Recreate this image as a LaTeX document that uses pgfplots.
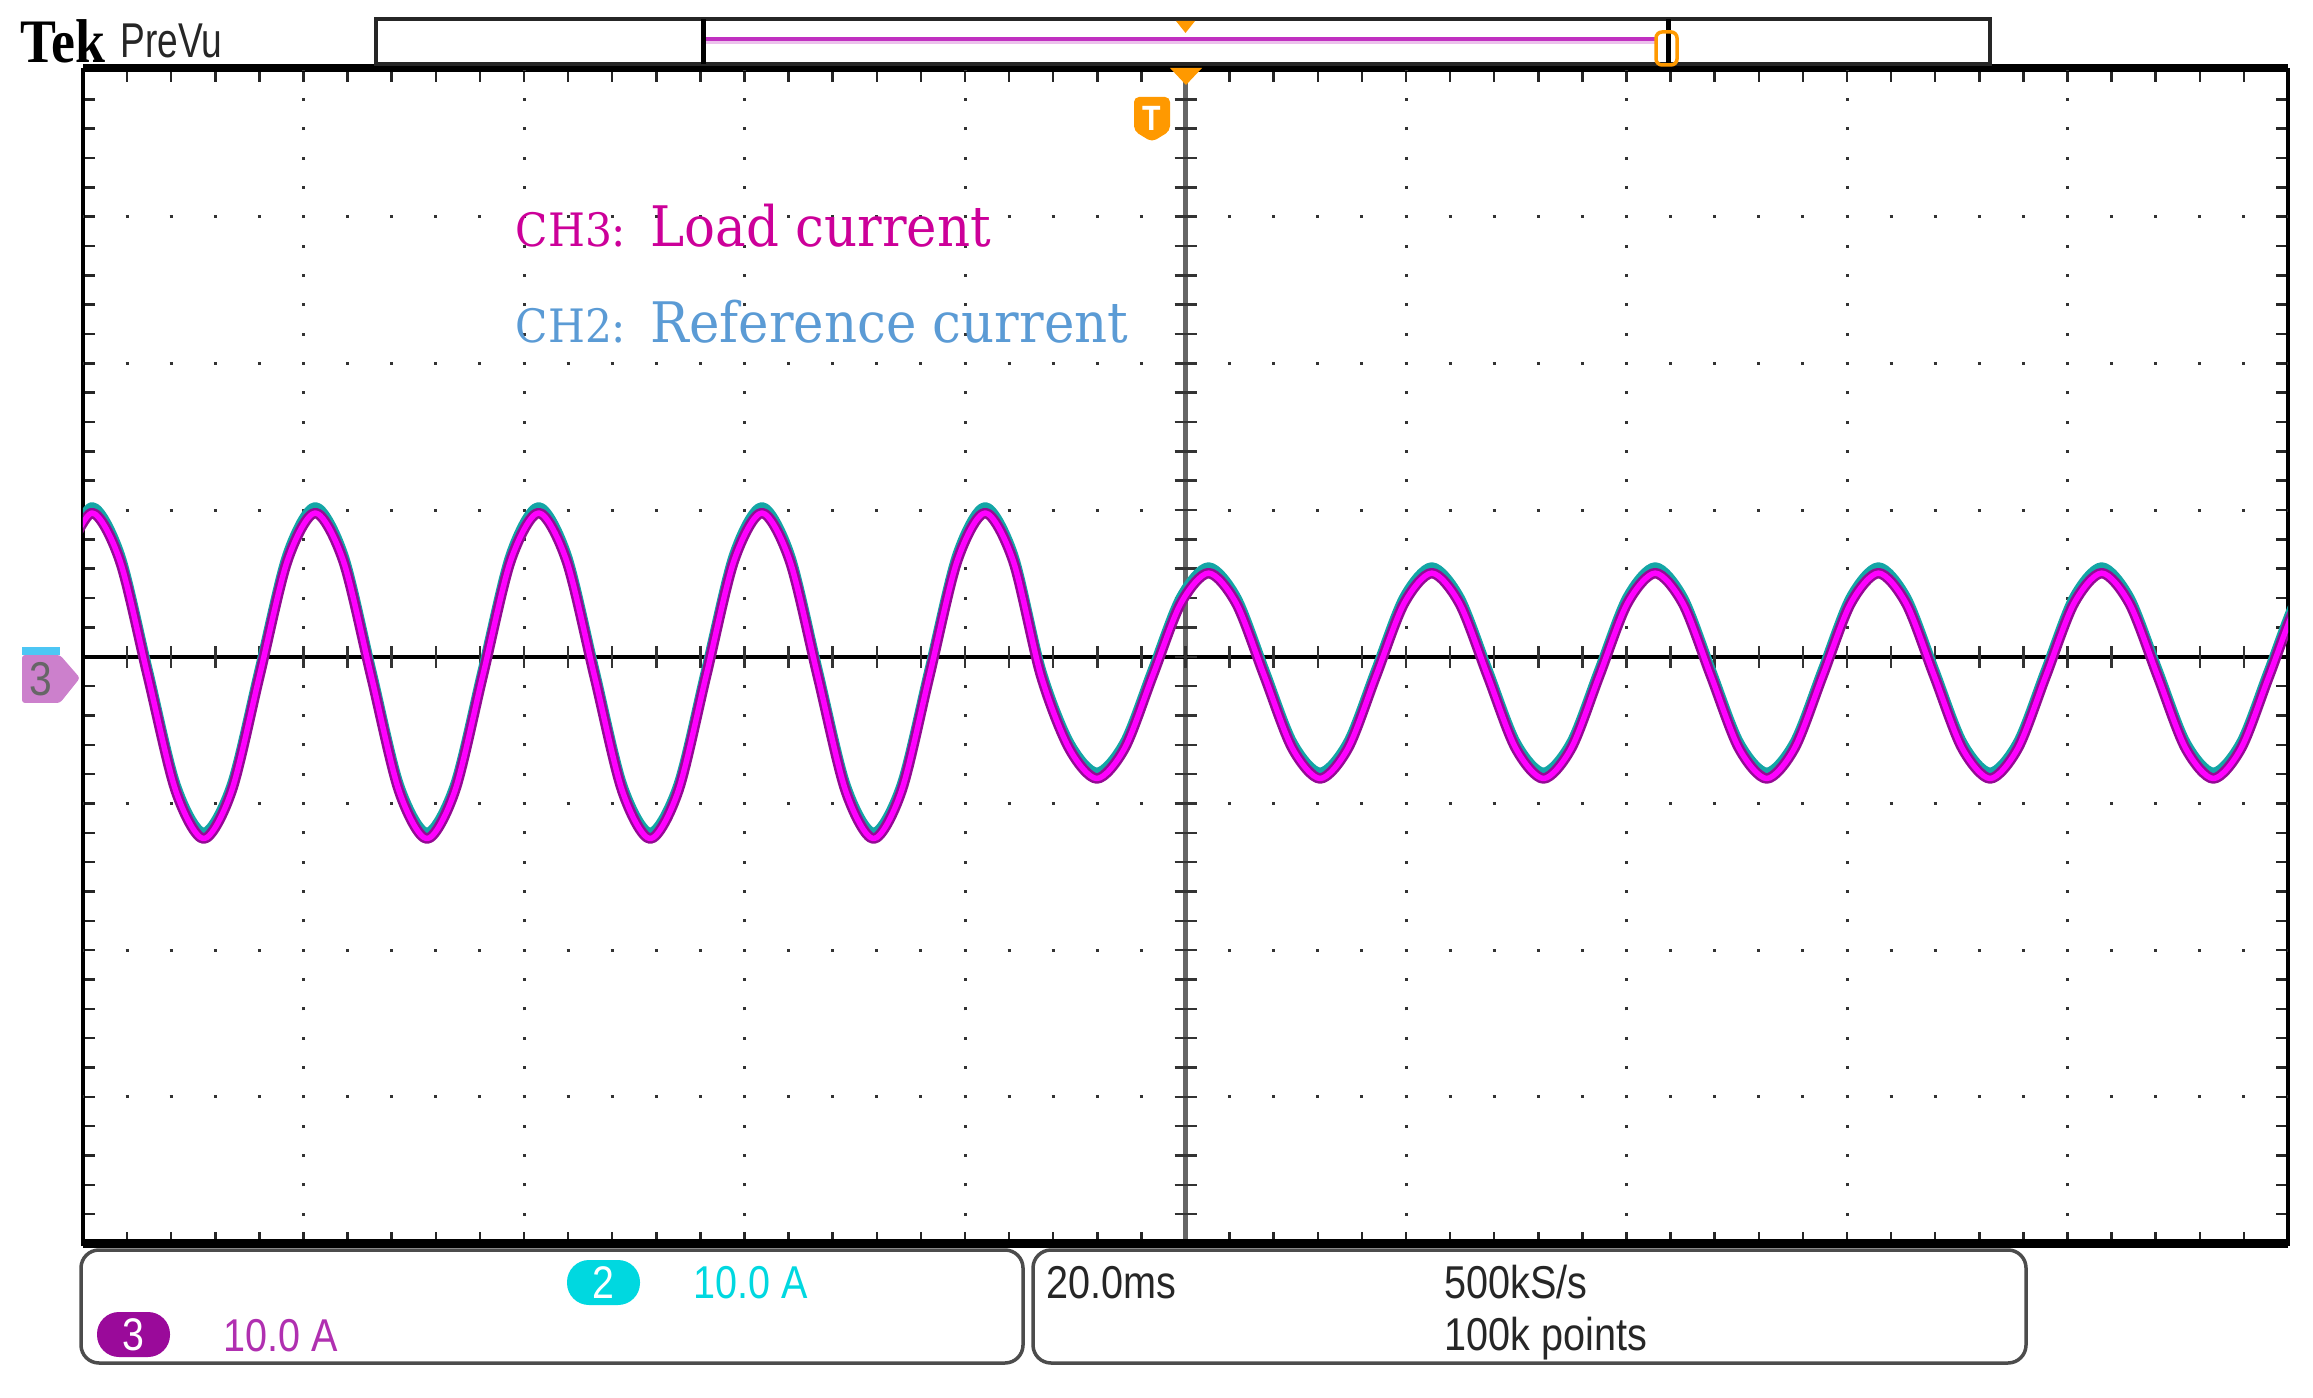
\documentclass[border=0pt]{standalone}
\usepackage{pgfplots}
\pgfplotsset{compat=1.18}
\usepackage{pgfplotstable}
\usepackage{fontspec}
\setmainfont{Liberation Sans}
\newfontfamily\tekfont[FakeStretch=0.86]{Liberation Sans}
\newfontfamily\tekprevu[FakeStretch=0.76]{Liberation Sans}
\newfontfamily\teklogo[FakeStretch=0.87]{Liberation Serif}
\newfontfamily\labelfont[FakeStretch=0.92]{DejaVu Serif}
\definecolor{magtext}{HTML}{CC0099}
\definecolor{bluetext}{HTML}{5B9BD5}
\definecolor{tekorange}{HTML}{FF9900}
\definecolor{ch3}{HTML}{FF00FF}
\definecolor{ch3dark}{HTML}{940A94}
\definecolor{ch2}{HTML}{14A6A6}
\definecolor{ch2text}{HTML}{00D8E0}
\definecolor{ch3text}{HTML}{B030B0}
\definecolor{badge3}{HTML}{9A0A9A}
\definecolor{marker3}{HTML}{CC80CC}
\definecolor{barmag}{HTML}{C030C0}

\pgfplotstableread{
t m c
-1.71 6.55 6.95
0.82 9.80 10.20
3.35 6.55 6.95
5.88 -1.30 -0.90
8.42 -9.15 -8.75
10.95 -12.40 -12.00
13.48 -9.15 -8.75
16.01 -1.30 -0.90
18.54 6.55 6.95
21.07 9.80 10.20
23.61 6.55 6.95
26.14 -1.30 -0.90
28.67 -9.15 -8.75
31.20 -12.40 -12.00
33.73 -9.15 -8.75
36.26 -1.30 -0.90
38.79 6.55 6.95
41.33 9.80 10.20
43.86 6.55 6.95
46.39 -1.30 -0.90
48.92 -9.15 -8.75
51.45 -12.40 -12.00
53.99 -9.15 -8.75
56.52 -1.30 -0.90
59.05 6.55 6.95
61.58 9.80 10.20
64.11 6.55 6.95
66.64 -1.30 -0.90
69.18 -9.15 -8.75
71.71 -12.40 -12.00
74.24 -9.15 -8.75
76.77 -1.30 -0.90
79.30 6.55 6.95
81.83 9.80 10.20
84.37 6.55 6.95
86.90 -1.30 -0.90
89.43 -6.22 -5.82
91.96 -8.30 -7.90
94.49 -6.22 -5.82
97.02 -1.30 -0.90
99.56 3.62 4.02
102.09 5.70 6.10
104.62 3.62 4.02
107.15 -1.30 -0.90
109.68 -6.22 -5.82
112.21 -8.30 -7.90
114.75 -6.22 -5.82
117.28 -1.30 -0.90
119.81 3.62 4.02
122.34 5.70 6.10
124.87 3.62 4.02
127.41 -1.30 -0.90
129.94 -6.22 -5.82
132.47 -8.30 -7.90
135.00 -6.22 -5.82
137.53 -1.30 -0.90
140.06 3.62 4.02
142.60 5.70 6.10
145.13 3.62 4.02
147.66 -1.30 -0.90
150.19 -6.22 -5.82
152.72 -8.30 -7.90
155.25 -6.22 -5.82
157.79 -1.30 -0.90
160.32 3.62 4.02
162.85 5.70 6.10
165.38 3.62 4.02
167.91 -1.30 -0.90
170.44 -6.22 -5.82
172.98 -8.30 -7.90
175.51 -6.22 -5.82
178.04 -1.30 -0.90
180.57 3.62 4.02
183.10 5.70 6.10
185.63 3.62 4.02
188.17 -1.30 -0.90
190.70 -6.22 -5.82
193.23 -8.30 -7.90
195.76 -6.22 -5.82
198.29 -1.30 -0.90
200.83 3.62 4.02
203.36 5.70 6.10
}\wave

\begin{document}
\begin{tikzpicture}
\useasboundingbox (0,0) rectangle (231.3mm,139.7mm);
\begin{axis}[
  at={(8.3mm,15.35mm)}, anchor=south west,
  scale only axis, width=220.5mm, height=117.35mm,
  xmin=0, xmax=200, ymin=-40, ymax=40,
  xtick={0,20,...,200}, ytick={-40,-30,...,40},
  minor x tick num=4, minor y tick num=4,
  xticklabels={}, yticklabels={},
  tick align=inside, tick pos=both,
  major tick length=1.2mm, minor tick length=1.2mm,
  tick style={black!85, line width=0.25mm},
  axis line style={black, line width=0.45mm},
]
\pgfplotsinvokeforeach{20,40,60,80,120,140,160,180}{
  \draw[black!80, line width=0.3mm, dash pattern=on 0.3mm off 2.63375mm, dash phase=0.15mm] (axis cs:#1,-40) -- (axis cs:#1,40);
}
\pgfplotsinvokeforeach{-30,-20,-10,10,20,30}{
  \draw[black!80, line width=0.3mm, dash pattern=on 0.3mm off 4.11mm, dash phase=0.15mm] (axis cs:0,#1) -- (axis cs:200,#1);
}
\draw[black!60, line width=0.55mm] (axis cs:100,-40) -- (axis cs:100,40);
\draw[black, line width=0.4mm] (axis cs:0,0) -- (axis cs:200,0);
\pgfplotsinvokeforeach{4,8,...,196}{
  \draw[black!80, line width=0.25mm] (axis cs:#1,0) ++(0pt,-1.1mm) -- ++(0pt,2.2mm);
}
\pgfplotsinvokeforeach{-38,-36,...,38}{
  \draw[black!80, line width=0.25mm] (axis cs:100,#1) ++(-1.1mm,0pt) -- ++(2.2mm,0pt);
}
\addplot[ch2, line width=1.0mm, smooth, no markers, line join=round] table[x=t,y=c]{\wave};
\addplot[ch3dark, line width=1.05mm, smooth, no markers, line join=round] table[x=t,y=m]{\wave};
\addplot[ch3, line width=0.55mm, smooth, no markers, line join=round] table[x=t,y=m]{\wave};
\end{axis}

% frame reinforcement
\draw[black, line width=0.4mm] (8.3mm,133.1mm) -- (228.8mm,133.1mm);
\draw[black, line width=0.9mm] (8.3mm,15.4mm) -- (228.8mm,15.4mm);

% Tek PreVu
\node[anchor=base west, inner sep=0, font=\teklogo\bfseries\fontsize{17.6}{18}\selectfont] at (2.0mm,133.4mm) {Tek};
\node[anchor=base west, inner sep=0, text=black!85, font=\tekprevu\fontsize{13.9}{14}\selectfont] at (12.0mm,133.9mm) {PreVu};

% record bar
\draw[black!85, line width=0.35mm] (37.6mm,133.3mm) rectangle (199.0mm,137.8mm);
\draw[line width=0.3mm, color=barmag!30] (70.5mm,135.45mm) -- (165.5mm,135.45mm);
\draw[line width=0.35mm, color=barmag] (70.5mm,135.8mm) -- (165.5mm,135.8mm);
\draw[black, line width=0.5mm] (70.3mm,133.3mm) -- (70.3mm,137.8mm);
\draw[black, line width=0.5mm] (166.8mm,133.3mm) -- (166.8mm,137.8mm);
\draw[tekorange, line width=0.35mm, rounded corners=0.6mm] (165.6mm,133.2mm) rectangle (167.7mm,136.5mm);
\fill[tekorange] (117.6mm,137.6mm) -- (119.5mm,137.6mm) -- (118.55mm,136.4mm) -- cycle;
\fill[tekorange] (117.0mm,132.9mm) -- (120.2mm,132.9mm) -- (118.6mm,131.2mm) -- cycle;

% trigger marker
\fill[tekorange, rounded corners=0.5mm] (113.4mm,130.0mm) -- (117.0mm,130.0mm) -- (117.0mm,126.6mm) -- (115.2mm,125.5mm) -- (113.4mm,126.6mm) -- cycle;
\node[text=white, inner sep=0, font=\tekfont\bfseries\fontsize{10}{10}\selectfont] at (115.2mm,127.9mm) {T};

% channel 3 ground marker
\fill[marker3, rounded corners=0.3mm] (2.2mm,74.2mm) -- (6.0mm,74.2mm) -- (8.0mm,71.9mm) -- (6.0mm,69.4mm) -- (2.2mm,69.4mm) -- cycle;
\fill[cyan!70!white] (2.2mm,74.2mm) rectangle (6.0mm,75.0mm);
\node[text=black!60, inner sep=0, font=\tekfont\fontsize{13.5}{13.5}\selectfont] at (4.1mm,71.8mm) {3};

% annotations
\node[anchor=base west, inner sep=0, text=magtext, font=\labelfont\fontsize{13.1}{14}\selectfont] at (51.5mm,115.0mm) {CH3:};
\node[anchor=base west, inner sep=0, text=magtext, font=\labelfont\fontsize{15.9}{17}\selectfont] at (65.0mm,115.0mm) {Load current};
\node[anchor=base west, inner sep=0, text=bluetext, font=\labelfont\fontsize{13.1}{14}\selectfont] at (51.5mm,105.4mm) {CH2:};
\node[anchor=base west, inner sep=0, text=bluetext, font=\labelfont\fontsize{15.9}{17}\selectfont] at (65.0mm,105.4mm) {Reference current};

% readout boxes
\draw[black!70, line width=0.35mm, rounded corners=1.8mm] (8.1mm,3.4mm) rectangle (102.3mm,14.7mm);
\draw[black!70, line width=0.35mm, rounded corners=1.8mm] (103.3mm,3.4mm) rectangle (202.6mm,14.7mm);
\node[fill=ch2text, text=white, rounded corners=2.2mm, minimum width=7.3mm, minimum height=4.5mm, inner sep=0, font=\tekfont\fontsize{13}{13}\selectfont] at (60.35mm,11.45mm) {2};
\node[fill=badge3, text=white, rounded corners=2.2mm, minimum width=7.3mm, minimum height=4.5mm, inner sep=0, font=\tekfont\fontsize{13}{13}\selectfont] at (13.35mm,6.25mm) {3};
\node[anchor=base west, inner sep=0, text=ch2text, font=\tekfont\fontsize{13.1}{13}\selectfont] at (69.3mm,9.9mm) {10.0 A};
\node[anchor=base west, inner sep=0, text=ch3text, font=\tekfont\fontsize{13.1}{13}\selectfont] at (22.3mm,4.6mm) {10.0 A};
\node[anchor=base west, inner sep=0, text=black!85, font=\tekfont\fontsize{13.1}{13}\selectfont] at (104.6mm,9.9mm) {20.0ms};
\node[anchor=base west, inner sep=0, text=black!85, font=\tekfont\fontsize{13.1}{13}\selectfont] at (144.4mm,9.9mm) {500kS/s};
\node[anchor=base west, inner sep=0, text=black!85, font=\tekfont\fontsize{13.1}{13}\selectfont] at (144.4mm,4.7mm) {100k points};
\end{tikzpicture}
\end{document}
